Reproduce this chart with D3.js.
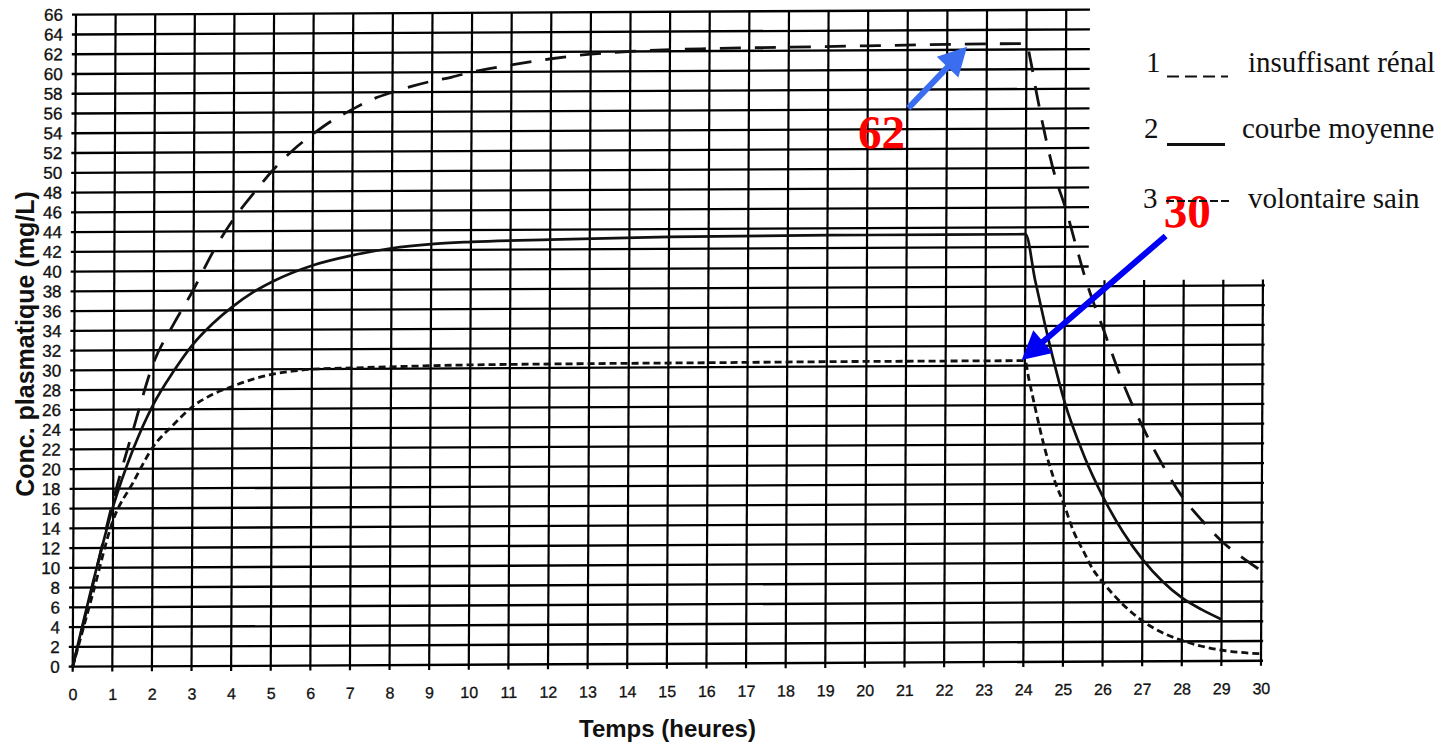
<!DOCTYPE html>
<html><head><meta charset="utf-8">
<script src="https://cdn.jsdelivr.net/npm/d3@7"></script>
<style>body{margin:0;background:#fff}svg{display:block}</style>
</head><body>
<svg id="c" width="1441" height="747"></svg>
<script>
// ---- data ----
const xTicks = [0,1,2,3,4,5,6,7,8,9,10,11,12,13,14,15,16,17,18,19,20,21,22,23,24,25,26,27,28,29,30];
const yTicks = [0,2,4,6,8,10,12,14,16,18,20,22,24,26,28,30,32,34,36,38,40,42,44,46,48,50,52,54,56,58,60,62,64,66];

const renalT = [0,0.5,1,1.5,2,2.5,3,3.5,3.8,4,4.5,5,5.5,6,6.5,7,7.5,8,8.5,9,9.5,10,11,12,13,14,16,18,20,22,24,24.1,24.25,24.5,24.75,25,25.25,25.5,26,26.5,27,27.5,28,28.5,29,29.5,30];
const renalC = [0,8.3,16.8,24,30.7,34.6,38.1,42,44,45.2,47.8,50.2,52.2,53.8,55.2,56.3,57.3,58,58.6,59.1,59.5,60,60.7,61.3,61.75,62,62.25,62.35,62.45,62.55,62.6,61,57.8,53,49,46,42.5,39,33.4,28,23.6,19.8,16.6,14.2,12.1,10.5,9.1];

const meanT = [0,0.5,1,1.5,2,2.5,3,3.5,4,4.5,5,6,7,8,9,10,12,15,20,24,24.25,24.5,24.75,25,25.5,26,26.5,27,27.5,28,28.5,29];
const meanC = [0,8.5,16.2,22,26.5,29.8,32.6,34.7,36.4,37.8,38.9,40.5,41.5,42.2,42.6,42.8,43,43.2,43.3,43.3,38.6,34.2,30.1,26.4,20.9,16.6,13.1,10.3,8.1,6.4,5.2,4.2];

const healthyT = [0,0.5,1,1.5,2,2.5,3,3.5,4,4.5,5,5.5,6,7,8,10,12,16,20,24,24.1,24.25,24.5,24.75,25,25.25,25.5,25.75,26,26.5,27,27.5,28,28.5,29,29.5,30];
const healthyC = [0,7.4,14.8,18.6,22.2,24.4,26.3,27.5,28.3,29,29.5,29.8,30,30.1,30.2,30.35,30.4,30.45,30.5,30.5,28.7,26,21.8,18.5,16,13.2,11.2,9.3,8,5.8,4.1,2.9,2.1,1.5,1.1,0.85,0.7];

const legendNumbers = ["1","2","3"];
const legendLabels = ["insuffisant rénal","courbe moyenne","volontaire sain"];
const xTitle = "Temps (heures)";
const yTitle = "Conc. plasmatique (mg/L)";
const annot = [{text:"62", t:22.5, v:62.3}, {text:"30", t:23.92, v:30.57}];

// ---- layout ----
const X0 = 72.7, Y0 = 666.7, W = 1188.3, H = 652, SB = -0.005, SC = -0.00506;
const x = d3.scaleLinear().domain([0,30]).range([0,W]);
const y = d3.scaleLinear().domain([0,66]).range([H,0]);
const svg = d3.select('#c');
const ink = '#000';
const g = svg.append('g')
  .attr('transform', `translate(${X0},${Y0}) matrix(1,${SB},${SC},1,0,0) translate(0,${-H})`);

// grid
const hEnd = v => v <= 38 ? x(30) + 2 : x(25.6);
const vTop = t => t <= 25 ? y(66) : y(38.6);
g.append('g').selectAll('line').data(yTicks).join('line')
  .attr('x1', -4).attr('x2', d => hEnd(d))
  .attr('y1', d => y(d)).attr('y2', d => y(d))
  .attr('stroke', ink).attr('stroke-width', 2.3);
g.append('g').selectAll('line').data(xTicks).join('line')
  .attr('x1', d => x(d)).attr('x2', d => x(d))
  .attr('y1', y(0) + 5).attr('y2', d => vTop(d))
  .attr('stroke', ink).attr('stroke-width', 2.2);

// axes labels
const ya = g.append('g').call(d3.axisLeft(y).tickValues(yTicks).tickSize(0).tickPadding(13));
ya.select('.domain').remove();
ya.attr('font-family', '"Liberation Sans", Arial, sans-serif').attr('font-size', 17);
ya.selectAll('text').attr('fill', '#111').attr('stroke', '#111').attr('stroke-width', 0.35);
const xa = g.append('g').attr('transform', `translate(0,${H})`)
  .call(d3.axisBottom(x).tickValues(xTicks).tickSize(0).tickPadding(22));
xa.select('.domain').remove();
xa.attr('font-family', '"Liberation Sans", Arial, sans-serif').attr('font-size', 16);
xa.selectAll('text').attr('fill', '#111').attr('stroke', '#111').attr('stroke-width', 0.3);

// curves
const line = d3.line().x(d => x(d[0])).y(d => y(d[1])).curve(d3.curveMonotoneX);
g.append('path').datum(d3.zip(renalT, renalC)).attr('d', line)
  .attr('fill', 'none').attr('stroke', '#111').attr('stroke-width', 2.8).attr('stroke-dasharray', '21,14');
g.append('path').datum(d3.zip(meanT, meanC)).attr('d', line)
  .attr('fill', 'none').attr('stroke', '#111').attr('stroke-width', 2.7);
g.append('path').datum(d3.zip(healthyT, healthyC)).attr('d', line)
  .attr('fill', 'none').attr('stroke', '#111').attr('stroke-width', 2.8).attr('stroke-dasharray', '7,4');

// annotation arrows
function arrow(tip, tail, color) {
  const dx = tip[0] - tail[0], dy = tip[1] - tail[1];
  const L = Math.hypot(dx, dy), ux = dx / L, uy = dy / L;
  const hl = 28, hw = 15;
  const bx = tip[0] - ux * hl, by = tip[1] - uy * hl;
  g.append('line').attr('x1', tail[0]).attr('y1', tail[1]).attr('x2', bx + ux * 2).attr('y2', by + uy * 2)
    .attr('stroke', color).attr('stroke-width', 6);
  g.append('polygon').attr('points', [
    [tip[0], tip[1]], [bx - uy * hw, by + ux * hw], [bx + uy * hw, by - ux * hw]
  ].map(p => p.join(',')).join(' ')).attr('fill', color);
}
const tip1 = [x(annot[0].t), y(annot[0].v)], tail1 = [tip1[0] - 58.4, tip1[1] + 61];
const tip2 = [x(annot[1].t), y(annot[1].v)], tail2 = [tip2[0] + 143.3, tip2[1] - 123.3];
arrow(tip1, tail1, '#3a6df0');
arrow(tip2, tail2, '#0000f5');

// legend (absolute)
const serif = '"Liberation Serif", "Times New Roman", serif';
const leg = svg.append('g').attr('font-family', serif).attr('font-size', 29).attr('fill', '#111');
const legY = [71.7, 138.3, 208.3], numX = [1146, 1144, 1143], labX = [1248, 1242, 1248];
leg.selectAll('text.n').data(legendNumbers).join('text').attr('class','n')
  .attr('x', (d,i) => numX[i]).attr('y', (d,i) => legY[i]).text(d => d);
leg.selectAll('text.l').data(legendLabels).join('text').attr('class','l')
  .attr('x', (d,i) => labX[i]).attr('y', (d,i) => legY[i]).text(d => d);
svg.append('line').attr('x1', 1167).attr('x2', 1228).attr('y1', 76.5).attr('y2', 76.5)
  .attr('stroke', '#111').attr('stroke-width', 2).attr('stroke-dasharray', '12,6');
svg.append('line').attr('x1', 1167).attr('x2', 1225).attr('y1', 144.5).attr('y2', 144.5)
  .attr('stroke', '#111').attr('stroke-width', 3);
svg.append('line').attr('x1', 1166).attr('x2', 1231).attr('y1', 201).attr('y2', 201)
  .attr('stroke', '#111').attr('stroke-width', 2).attr('stroke-dasharray', '8,3');

// red labels (inside skew group, anchored to arrows)
g.append('text').attr('x', tail1[0] - 3).attr('y', tail1[1] + 40).attr('text-anchor', 'end')
  .attr('font-family', serif).attr('font-weight', 'bold').attr('font-size', 47).attr('fill', '#ff0000')
  .text(annot[0].text);
g.append('text').attr('x', tail2[0] - 2).attr('y', tail2[1] - 8.7)
  .attr('font-family', serif).attr('font-weight', 'bold').attr('font-size', 47).attr('fill', '#ff0000')
  .text(annot[1].text);

// axis titles
const sans = '"Liberation Sans", Arial, sans-serif';
svg.append('text').attr('x', 667.5).attr('y', 737).attr('text-anchor', 'middle')
  .attr('font-family', sans).attr('font-weight', 'bold').attr('font-size', 24).attr('fill', '#111')
  .text(xTitle);
svg.append('text').attr('transform', 'translate(34,344) rotate(-90)').attr('text-anchor', 'middle')
  .attr('font-family', sans).attr('font-weight', 'bold').attr('font-size', 25).attr('fill', '#111')
  .text(yTitle);
</script>
</body></html>
